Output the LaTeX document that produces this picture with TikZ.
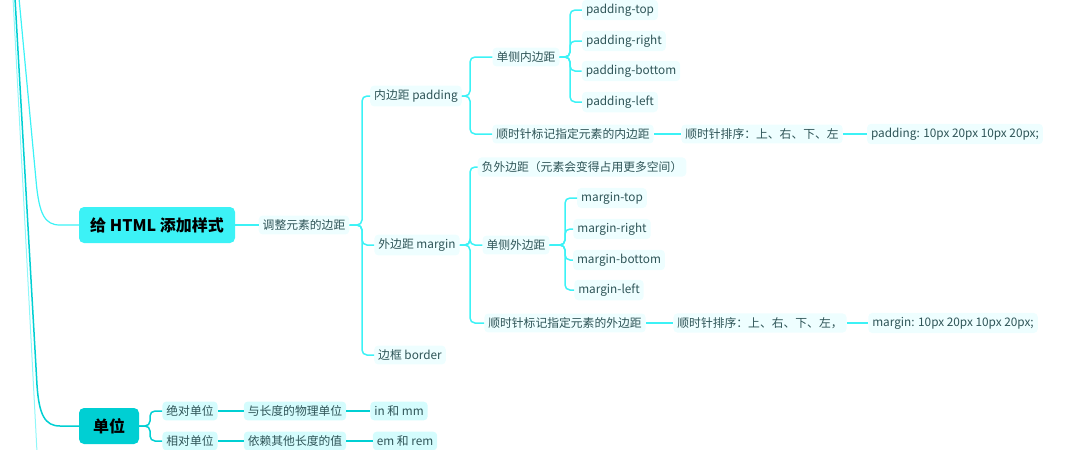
\documentclass[tikz,border=0pt]{standalone}
\usepackage{fontspec}
\setmainfont{Noto Sans CJK SC}
\usetikzlibrary{calc}
\definecolor{brc}{HTML}{3CF2F6}
\definecolor{dkc}{HTML}{00CFD3}
\definecolor{ltc}{HTML}{8FF7F9}
\definecolor{lf}{HTML}{EEFEFF}
\definecolor{lf2}{HTML}{D4FCFD}
\definecolor{tx}{HTML}{2E5457}
\begin{document}
\begin{tikzpicture}[x=1pt,y=-1pt,
  leaf/.style={fill=lf,rounded corners=4pt,text=tx,font=\fontsize{11.8}{13}\selectfont,inner xsep=4pt,inner ysep=4pt},
  leaf2/.style={leaf,fill=lf2},
  main/.style={rounded corners=5pt,font=\fontsize{16}{18}\selectfont\bfseries,text=black,minimum height=36pt,inner xsep=8pt},
  conn/.style={brc,line width=1.5pt,rounded corners=5pt},
  conn2/.style={dkc,line width=1.5pt,rounded corners=5pt}]
\useasboundingbox (0,0) rectangle (1080,450);
% left trunk lines
\draw[ltc,line width=1pt] (13,-2) -- (37,452);
\node[main,fill=brc,minimum width=156pt] (html) at (157,225) {给 HTML 添加样式};
\node[main,fill=dkc,minimum width=60pt] (unit) at (109,426) {单位};
\draw[brc,line width=1.2pt] (19,-2) -- (36,180) .. controls (39,215) and (45,225) .. (60,225) -- (html.west);
\draw[dkc,line width=1.5pt] (15,-2) -- (37,385) .. controls (39,415) and (45,426) .. (60,426) -- (unit.west);
% level nodes
\node[leaf] (adj) at (304,225) {调整元素的边距};
\node[leaf] (pad) at (416,96) {内边距 padding};
\node[leaf] (mar) at (417,245) {外边距 margin};
\node[leaf] (bor) at (410,355) {边框 border};
\node[leaf] (sp) at (526,57) {单侧内边距};
\node[leaf] (pt) at (620,10) {padding-top};
\node[leaf] (pr) at (624,41) {padding-right};
\node[leaf] (pb) at (631,71) {padding-bottom};
\node[leaf] (pl) at (620,102) {padding-left};
\node[leaf] (pc) at (573,134) {顺时针标记指定元素的内边距};
\node[leaf] (pc2) at (762,134) {顺时针排序：上、右、下、左};
\node[leaf] (pc3) at (955,134) {padding: 10px 20px 10px 20px;};
\node[leaf] (neg) at (582,167) {负外边距（元素会变得占用更多空间）};
\node[leaf] (sm) at (516,245) {单侧外边距};
\node[leaf] (mt) at (612,198) {margin-top};
\node[leaf] (mr) at (612,229) {margin-right};
\node[leaf] (mb) at (619,260) {margin-bottom};
\node[leaf] (ml) at (609,290) {margin-left};
\node[leaf] (mc) at (565,323) {顺时针标记指定元素的外边距};
\node[leaf] (mc2) at (760,323) {顺时针排序：上、右、下、左，};
\node[leaf] (mc3) at (953,323) {margin: 10px 20px 10px 20px;};
\node[leaf2] (abs) at (190,411) {绝对单位};
\node[leaf2] (abs2) at (295,411) {与长度的物理单位};
\node[leaf2] (abs3) at (399,411) {in 和 mm};
\node[leaf2] (rel) at (190,441) {相对单位};
\node[leaf2] (rel2) at (295,441) {依赖其他长度的值};
\node[leaf2] (rel3) at (405,441) {em 和 rem};
% connectors
\draw[conn] (html.east) -- (adj.west);
\coordinate (j1) at (362,225);
\foreach \c in {pad,mar,bor} \draw[conn] (adj.east) -- (j1) |- (\c.west);
\coordinate (j2) at (470,96);
\foreach \c in {sp,pc} \draw[conn] (pad.east) -- (j2) |- (\c.west);
\coordinate (j3) at (570,57);
\foreach \c in {pt,pr,pb,pl} \draw[conn] (sp.east) -- (j3) |- (\c.west);
\draw[conn] (pc.east) -- (pc2.west);
\draw[conn] (pc2.east) -- (pc3.west);
\coordinate (j4) at (470,245);
\foreach \c in {neg,sm,mc} \draw[conn] (mar.east) -- (j4) |- (\c.west);
\coordinate (j5) at (565,245);
\foreach \c in {mt,mr,mb,ml} \draw[conn] (sm.east) -- (j5) |- (\c.west);
\draw[conn] (mc.east) -- (mc2.west);
\draw[conn] (mc2.east) -- (mc3.west);
\coordinate (j6) at (150,426);
\foreach \c in {abs,rel} \draw[conn2] (unit.east) -- (j6) |- (\c.west);
\draw[conn2] (abs.east) -- (abs2.west);
\draw[conn2] (abs2.east) -- (abs3.west);
\draw[conn2] (rel.east) -- (rel2.west);
\draw[conn2] (rel2.east) -- (rel3.west);
\end{tikzpicture}
\end{document}
